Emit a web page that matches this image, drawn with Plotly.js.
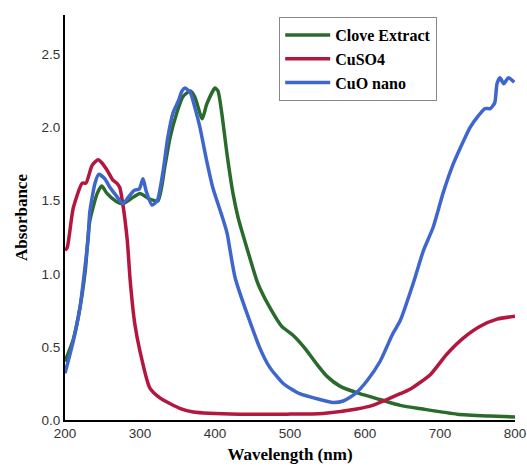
<!DOCTYPE html>
<html>
<head>
<meta charset="utf-8">
<script src="https://cdn.plot.ly/plotly-3.0.1.min.js"></script>
<style>html,body{margin:0;padding:0;background:#fff;}#chart{width:527px;height:466px;}</style>
</head>
<body>
<div id="chart"></div>
<script>
// Clove Extract
var cloveX = [200,211,220,227,233,243,249,256,267,277,287,300,313,324,333,340,349,357,367,373,383,389,400,404,409,416,424,431,436,456,460,473,489,504,520,536,549,567,593,620,647,677,723,767,800];
var cloveY = [0.40,0.55,0.77,1.02,1.36,1.55,1.60,1.55,1.50,1.48,1.51,1.55,1.51,1.50,1.73,1.93,2.10,2.21,2.25,2.21,2.06,2.16,2.27,2.25,2.10,1.82,1.55,1.38,1.29,0.95,0.90,0.77,0.64,0.58,0.49,0.38,0.30,0.23,0.18,0.14,0.10,0.075,0.04,0.027,0.02];
// CuSO4
var cuso4X = [200,203,211,223,228,236,244,249,256,264,269,273,277,283,287,293,300,313,327,353,371,433,496,544,589,610,629,647,660,687,709,731,753,776,800];
var cuso4Y = [1.16,1.18,1.45,1.62,1.62,1.74,1.78,1.76,1.71,1.64,1.62,1.59,1.48,1.23,0.95,0.66,0.47,0.22,0.15,0.08,0.055,0.04,0.04,0.045,0.075,0.10,0.14,0.18,0.21,0.31,0.45,0.56,0.64,0.69,0.71];
// CuO nano
var cuoX = [200,211,220,227,231,233,240,245,253,260,269,277,284,292,299,304,308,316,323,331,337,344,351,356,360,367,373,380,389,397,409,416,427,460,473,491,513,540,557,571,587,603,620,637,647,664,678,691,704,716,727,740,751,760,767,773,776,780,785,791,799];
var cuoY = [0.32,0.54,0.77,1.06,1.25,1.42,1.62,1.68,1.65,1.59,1.53,1.48,1.52,1.57,1.58,1.65,1.57,1.47,1.50,1.71,1.93,2.10,2.18,2.25,2.27,2.24,2.14,2.00,1.77,1.59,1.40,1.28,0.97,0.49,0.36,0.25,0.18,0.14,0.12,0.13,0.18,0.27,0.40,0.59,0.68,0.93,1.16,1.32,1.55,1.73,1.86,2.00,2.08,2.13,2.13,2.17,2.30,2.34,2.30,2.34,2.31];

var names = ['Clove Extract','CuSO4','CuO nano'];
var colors = ['#2a6b2c','#b3163f','#3e66cc'];
var xs = [cloveX, cuso4X, cuoX];
var ys = [cloveY, cuso4Y, cuoY];

var traces = names.map(function(n,i){
  return {x: xs[i], y: ys[i], name: n, type:'scatter', mode:'lines',
    line:{color: colors[i], width:3.5, shape:'spline', smoothing:0.6}};
});

var serif = 'Liberation Serif, Times New Roman, serif';
var layout = {
  width:527, height:466,
  margin:{l:65, r:12, t:15, b:46, pad:0},
  paper_bgcolor:'#fff', plot_bgcolor:'#fff',
  showlegend:true,
  legend:{x:0.476, y:0.995, xanchor:'left', yanchor:'top',
    bgcolor:'#fff', bordercolor:'#888', borderwidth:1,
    font:{family:serif, size:16, color:'#000', weight:'bold'},
    itemwidth:45, tracegroupgap:0},
  xaxis:{range:[200,800], dtick:100, tick0:200, showgrid:false, zeroline:false,
    showline:true, linecolor:'#000', linewidth:2, ticks:'',
    tickfont:{family:'Liberation Sans, Arial, sans-serif', size:13.5, color:'#333'},
    title:{text:'Wavelength (nm)', font:{family:serif, size:17, color:'#000', weight:'bold'}, standoff:8}},
  yaxis:{range:[0,2.77], dtick:0.5, tick0:0, tickformat:'.1f', showgrid:false, zeroline:false,
    showline:true, linecolor:'#000', linewidth:2, ticks:'',
    tickfont:{family:'Liberation Sans, Arial, sans-serif', size:13.5, color:'#333'},
    title:{text:'Absorbance', font:{family:serif, size:17, color:'#000', weight:'bold'}, standoff:10}}
};
Plotly.newPlot('chart', traces, layout, {displayModeBar:false, staticPlot:true});
</script>
</body>
</html>
